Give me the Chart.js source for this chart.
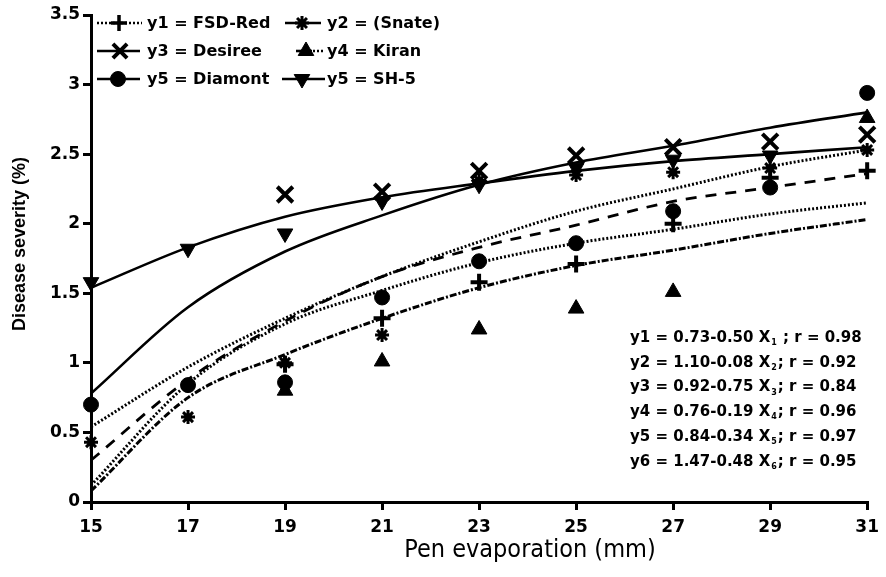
<!DOCTYPE html>
<html><head><meta charset="utf-8">
<script src="https://cdn.jsdelivr.net/npm/chart.js@4.4.1/dist/chart.umd.min.js"></script>
<style>html,body{margin:0;padding:0;background:#fff;}#wrap{width:886px;height:577px;position:relative;}</style>
</head><body><div id="wrap"><canvas id="c" width="886" height="577"></canvas></div>
<script>
// ---------- data ----------
const xValues = [15, 17, 19, 21, 23, 25, 27, 29, 31];
const xTickLabels = ['15', '17', '19', '21', '23', '25', '27', '29', '31'];
const yTickValues = [0, 0.5, 1, 1.5, 2, 2.5, 3, 3.5];
const yTickLabels = ['0', '0.5', '1', '1.5', '2', '2.5', '3', '3.5'];

// observed points (null = not visible)
const fsdRedPts  = [null, null, 0.99, 1.32, 1.58, 1.71, 2.00, 2.33, 2.38];
const snatePts   = [0.43, 0.61, 1.00, 1.20, 2.31, 2.35, 2.37, 2.40, 2.53];
const desireePts = [null, null, 2.21, 2.23, 2.38, 2.49, 2.55, 2.59, 2.64];
const kiranPts   = [null, null, 0.80, 1.01, 1.24, 1.39, 1.51, null, 2.76];
const diamontPts = [0.70, 0.84, 0.86, 1.47, 1.73, 1.86, 2.09, 2.26, 2.94];
const sh5Pts     = [1.58, 1.82, 1.93, 2.16, 2.28, 2.40, 2.46, 2.49, null];

// fitted curves, values at each x
const sh5Fit     = [1.54, 1.83, 2.05, 2.19, 2.29, 2.38, 2.45, 2.50, 2.55];
const desireeFit = [0.78, 1.40, 1.80, 2.06, 2.28, 2.44, 2.56, 2.69, 2.80];
const snateFit   = [0.54, 0.97, 1.32, 1.62, 1.87, 2.09, 2.25, 2.41, 2.53];
const fsdRedFit  = [0.30, 0.88, 1.30, 1.62, 1.83, 1.99, 2.16, 2.26, 2.36];
const diamontFit = [0.12, 0.85, 1.28, 1.52, 1.72, 1.86, 1.96, 2.07, 2.15];
const kiranFit   = [0.08, 0.75, 1.06, 1.32, 1.54, 1.70, 1.81, 1.93, 2.03];

const seriesNames = ['y1 = FSD-Red', 'y2 = (Snate)', 'y3 = Desiree', 'y4 = Kiran', 'y5 = Diamont', 'y5 = SH-5'];
const eqMain = ['y1 = 0.73-0.50 X', 'y2 = 1.10-0.08 X', 'y3 = 0.92-0.75 X', 'y4 = 0.76-0.19 X', 'y5 = 0.84-0.34 X', 'y6 = 1.47-0.48 X'];
const eqSub  = ['1', '2', '3', '4', '5', '6'];
const eqTail = [' ; r = 0.98', '; r = 0.92', '; r = 0.84', '; r = 0.96', '; r = 0.97', '; r = 0.95'];
const xTitle = 'Pen evaporation (mm)';
const yTitle = 'Disease severity (%)';

// ---------- build ----------
const toXY = arr => xValues.map((x, i) => ({x: x, y: arr[i]})).filter(p => p.y !== null);

function pointSet(name, arr, style, r, bw, rot) {
  return {label: name, data: toXY(arr), showLine: false, pointStyle: style, pointRadius: r,
    pointBorderWidth: bw, pointRotation: rot || 0, pointBackgroundColor: '#000', pointBorderColor: '#000',
    clip: false, order: 0};
}
function curveSet(name, arr, dash, w) {
  return {label: name, data: toXY(arr), showLine: true, pointRadius: 0, borderColor: '#000',
    borderWidth: w, borderDash: dash, cubicInterpolationMode: 'monotone', fill: false, order: 1};
}

const datasets = [
  pointSet(seriesNames[0], fsdRedPts, 'cross', 8.5, 4),
  pointSet(seriesNames[1], snatePts, 'star', 7, 3),
  pointSet(seriesNames[2], desireePts, 'crossRot', 11, 4),
  pointSet(seriesNames[3], kiranPts, 'triangle', 9, 1),
  pointSet(seriesNames[4], diamontPts, 'circle', 7.5, 1),
  pointSet(seriesNames[5], sh5Pts, 'triangle', 9, 1, 180),
  curveSet('fit SH-5', sh5Fit, [], 2.6),
  curveSet('fit Desiree', desireeFit, [], 2.6),
  curveSet('fit Snate', snateFit, [2, 2], 3),
  curveSet('fit FSD-Red', fsdRedFit, [11, 9], 2.8),
  curveSet('fit Diamont', diamontFit, [2, 2], 3),
  curveSet('fit Kiran', kiranFit, [7, 2, 2, 2], 3)
];

const BOLD = '"DejaVu Sans", sans-serif';

function drawMarker(ctx, style, r, bw, rot, x, y) {
  if (Chart.helpers && Chart.helpers.drawPoint) {
    ctx.save();
    ctx.fillStyle = '#000'; ctx.strokeStyle = '#000'; ctx.lineWidth = bw; ctx.setLineDash([]);
    Chart.helpers.drawPoint(ctx, {pointStyle: style, radius: r, rotation: rot || 0, borderWidth: bw}, x, y);
    ctx.restore();
  }
}

const overlayPlugin = {
  id: 'overlay',
  afterDraw(chart) {
    const ctx = chart.ctx;
    ctx.save();
    ctx.fillStyle = '#000'; ctx.strokeStyle = '#000';
    ctx.textBaseline = 'middle';
    // legend rows: [lineStart, lineEnd, markerX, rowY, dash, style, r, bw, rot, textX]
    const rows = [
      [97, 142, 119, 23, [2, 2], 'cross', 8, 3.5, 0, 147],
      [285, 321, 302, 23, [], 'star', 7, 3, 0, 327],
      [97, 140, 120, 51, [], 'crossRot', 10, 4, 0, 147],
      [296, 312, 306, 51, [], 'triangle', 9, 1, 0, 327],
      [97, 140, 118, 79, [], 'circle', 7.5, 1, 0, 147],
      [282, 325, 302, 79, [], 'triangle', 9, 1, 180, 327]
    ];
    ctx.font = 'bold 16px ' + BOLD;
    rows.forEach((r, i) => {
      ctx.lineWidth = 2.6; ctx.setLineDash(r[4]);
      ctx.beginPath(); ctx.moveTo(r[0], r[3]); ctx.lineTo(r[1], r[3]); ctx.stroke();
      if (i === 3) { ctx.setLineDash([2, 2]); ctx.beginPath(); ctx.moveTo(313, r[3]); ctx.lineTo(325, r[3]); ctx.stroke(); }
      ctx.setLineDash([]);
      drawMarker(ctx, r[5], r[6], r[7], r[8], r[2], r[3]);
      ctx.fillStyle = '#000';
      ctx.textAlign = 'left';
      ctx.fillText(seriesNames[i], r[9], r[3] + 1);
    });
    // equations
    const ex = 630, ey0 = 338, dy = 24.8;
    eqMain.forEach((m, i) => {
      const y = ey0 + i * dy;
      ctx.font = 'bold 15px ' + BOLD;
      ctx.fillText(m, ex, y);
      let w = ctx.measureText(m).width;
      ctx.font = 'bold 8px ' + BOLD;
      ctx.fillText(eqSub[i], ex + w + 1, y + 5);
      w += ctx.measureText(eqSub[i]).width + 2;
      ctx.font = 'bold 15px ' + BOLD;
      ctx.fillText(eqTail[i], ex + w, y);
    });
    // axis titles
    ctx.textAlign = 'center';
    ctx.font = '25px "DejaVu Sans Condensed", "Liberation Sans Narrow", sans-serif';
    ctx.fillText(xTitle, 530, 550);
    ctx.translate(20, 244);
    ctx.rotate(-Math.PI / 2);
    ctx.font = 'bold 18px "Liberation Sans", sans-serif';
    ctx.fillText(yTitle, 0, 0);
    ctx.restore();
  }
};

new Chart(document.getElementById('c'), {
  type: 'scatter',
  data: {datasets: datasets},
  plugins: [overlayPlugin],
  options: {
    responsive: false,
    animation: false,
    layout: {padding: {left: 0, top: 15, right: 12, bottom: 0}},
    plugins: {legend: {display: false}, tooltip: {enabled: false}},
    scales: {
      x: {
        type: 'linear', min: 15, max: 31,
        afterBuildTicks: s => { s.ticks = xValues.map(v => ({value: v})); },
        ticks: {color: '#000', padding: 7, font: {family: BOLD, weight: 'bold', size: 17},
          callback: v => xTickLabels[xValues.indexOf(v)]},
        grid: {display: true, drawOnChartArea: false, drawTicks: true, tickLength: 8, color: '#000', lineWidth: 3},
        border: {display: true, color: '#000', width: 3},
        afterFit: s => { s.height = 75; }
      },
      y: {
        type: 'linear', min: 0, max: 3.5,
        afterBuildTicks: s => { s.ticks = yTickValues.map(v => ({value: v})); },
        ticks: {color: '#000', padding: 3, font: {family: BOLD, weight: 'bold', size: 17},
          callback: v => yTickLabels[yTickValues.indexOf(v)]},
        grid: {display: true, drawOnChartArea: false, drawTicks: true, tickLength: 8, color: '#000', lineWidth: 3},
        border: {display: true, color: '#000', width: 3},
        afterFit: s => { s.width = 91; }
      }
    }
  }
});
</script></body></html>
